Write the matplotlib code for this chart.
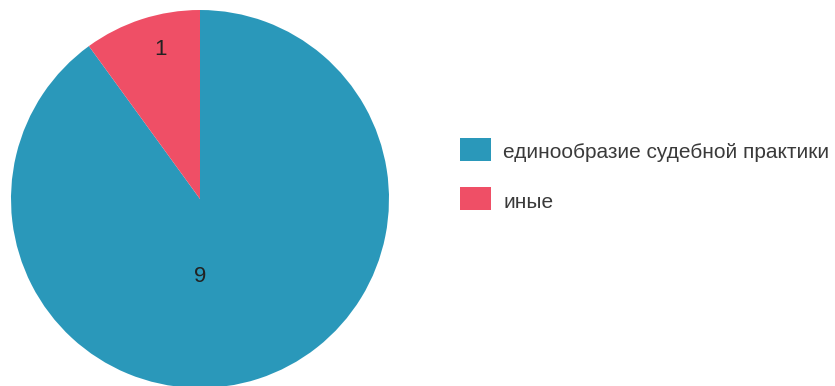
import matplotlib.pyplot as plt
from matplotlib.patches import Rectangle

# Share of cases by reason
labels = ['единообразие судебной практики', 'иные']
values = [9, 1]
colors = ['#2a98ba', '#ef4f66']

W, H = 835, 386
fig = plt.figure(figsize=(W / 100, H / 100), dpi=100)
plt.rcParams['font.family'] = ['Liberation Sans', 'DejaVu Sans']

# Pie occupies a square area on the left (pixel-based placement)
cx, cy, r = 200, 199, 189
ax = fig.add_axes([(cx - r) / W, (H - cy - r) / H, 2 * r / W, 2 * r / H])
wedges, _ = ax.pie(values, colors=colors, startangle=90, counterclock=False,
                   radius=1, wedgeprops=dict(linewidth=0))
ax.set_xlim(-1, 1)
ax.set_ylim(-1, 1)
ax.axis('off')

# Value labels inside the slices
label_pos = [(0.0, -0.41), (-0.21, 0.79)]
for v, (x, y) in zip(values, label_pos):
    ax.text(x, y, str(v), ha='center', va='center', fontsize=16, color='#222222')

# Legend on the right
for i, (lab, col) in enumerate(zip(labels, colors)):
    top = 138 + i * 49
    fig.add_artist(Rectangle((460 / W, (H - top - 23) / H), 31 / W, 23 / H,
                             transform=fig.transFigure, facecolor=col, edgecolor='none'))
    fig.text(503 / W, (H - top - 15) / H, lab, ha='left', va='center',
             fontsize=15, color='#3a3a3a')

fig.savefig('out.png', dpi=100)
